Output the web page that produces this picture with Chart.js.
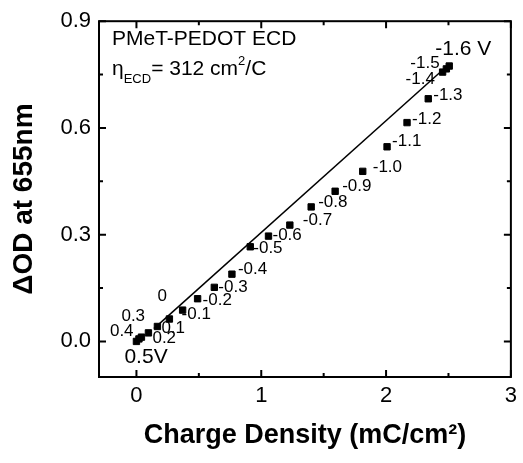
<!DOCTYPE html>
<html>
<head>
<meta charset="utf-8">
<script src="https://cdn.jsdelivr.net/npm/chart.js@4.4.0/dist/chart.umd.min.js"></script>
<style>
  body { margin: 0; background: #fff; }
  canvas { display: block; }
</style>
</head>
<body>
<canvas id="ecdChart" width="523" height="463"></canvas>
<script>
// potential steps (V) used as point labels
const potentials = ['0.5V', '0.4', '0.3', '0.2', '0.1', '0', '-0.1', '-0.2', '-0.3', '-0.4', '-0.5',
  '-0.6', '-0.7', '-0.8', '-0.9', '-1.0', '-1.1', '-1.2', '-1.3', '-1.4', '-1.5', '-1.6 V']
// charge density (mC/cm2)
const charge = [0, 0.02, 0.04, 0.096, 0.168, 0.264, 0.37, 0.49, 0.624, 0.765, 0.912,
  1.058, 1.229, 1.4, 1.592, 1.813, 2.008, 2.168, 2.338, 2.453, 2.483, 2.506]
// delta OD at 655nm
const deltaOD = [0, 0.007, 0.012, 0.024, 0.042, 0.063, 0.088, 0.12, 0.152, 0.189, 0.266,
  0.296, 0.327, 0.378, 0.422, 0.478, 0.547, 0.615, 0.682, 0.757, 0.766, 0.774]
// linear fit
const fitX = [0.14, 2.46]
const fitY = [0.036, 0.765]

const xMajor = [0, 1, 2, 3]
const xMinor = [0.5, 1.5, 2.5]
const yMajor = [0, 0.3, 0.6, 0.9]
const yMinor = [0.15, 0.45, 0.75]

// label offsets from each marker (px)
const labelOffsets = [
  [-12, 16], [-29, -8], [-20, -21], [4, 5], [4, 2], [-12, -23], [-1, 4], [5, 2], [4, 0], [6, -5], [3, 2],
  [4, -1], [13, -5], [7, -5], [7, -5], [10, -4], [5, -5], [5, -3], [5, -3], [-37, 7], [-36, -6], [-14, -17],
]

const FONT = '"Liberation Sans", Arial, sans-serif'

const framePlugin = {
  id: 'frame',
  afterDraw(chart) {
    const ctx = chart.ctx
    const area = chart.chartArea
    const xs = chart.scales.x
    const ys = chart.scales.y
    ctx.save()
    ctx.strokeStyle = '#000'
    ctx.lineWidth = 2
    ctx.strokeRect(area.left, area.top, area.right - area.left, area.bottom - area.top)

    function xTick(v, len) {
      const px = xs.getPixelForValue(v)
      ctx.beginPath()
      ctx.moveTo(px, area.bottom)
      ctx.lineTo(px, area.bottom - len)
      ctx.moveTo(px, area.top)
      ctx.lineTo(px, area.top + len)
      ctx.stroke()
    }
    function yTick(v, len) {
      const py = ys.getPixelForValue(v)
      ctx.beginPath()
      ctx.moveTo(area.left, py)
      ctx.lineTo(area.left + len, py)
      ctx.moveTo(area.right, py)
      ctx.lineTo(area.right - len, py)
      ctx.stroke()
    }
    xMajor.forEach(v => xTick(v, 7))
    xMinor.forEach(v => xTick(v, 4))
    yMajor.forEach(v => yTick(v, 7))
    yMinor.forEach(v => yTick(v, 4))
    ctx.restore()
  },
}

const labelPlugin = {
  id: 'pointLabels',
  beforeDatasetsDraw(chart) {
    const ctx = chart.ctx
    const meta = chart.getDatasetMeta(0)
    ctx.save()
    ctx.fillStyle = '#000'
    ctx.textBaseline = 'middle'
    ctx.textAlign = 'left'
    meta.data.forEach((pt, i) => {
      const big = i === 0 || i === potentials.length - 1
      ctx.font = (big ? '21px ' : '17px ') + FONT
      const off = labelOffsets[i]
      ctx.fillText(potentials[i], pt.x + off[0], pt.y + off[1])
    })

    // annotation text
    const left = chart.chartArea.left + 13
    ctx.textBaseline = 'alphabetic'
    ctx.font = '21px ' + FONT
    ctx.fillText('PMeT-PEDOT ECD', left, 45)

    let x = left
    const base = 75
    ctx.fillText('η', x, base)
    x += ctx.measureText('η').width
    ctx.font = '13px ' + FONT
    ctx.fillText('ECD', x, base + 8)
    x += ctx.measureText('ECD').width
    ctx.font = '21px ' + FONT
    ctx.fillText('= 312 cm', x, base)
    x += ctx.measureText('= 312 cm').width
    ctx.font = '13px ' + FONT
    ctx.fillText('2', x, base - 10)
    x += ctx.measureText('2').width
    ctx.font = '21px ' + FONT
    ctx.fillText('/C', x, base)
    ctx.restore()
  },
}

const points = charge.map((c, i) => ({ x: c, y: deltaOD[i] }))
const fitLine = fitX.map((c, i) => ({ x: c, y: fitY[i] }))

new Chart(document.getElementById('ecdChart').getContext('2d'), {
  type: 'scatter',
  data: {
    datasets: [
      {
        label: 'ECD',
        data: points,
        pointStyle: 'rect',
        pointRadius: 4.5,
        backgroundColor: '#000',
        borderColor: '#000',
        borderWidth: 1,
        showLine: false,
      },
      {
        label: 'fit',
        data: fitLine,
        showLine: true,
        borderColor: '#000',
        borderWidth: 1.5,
        pointRadius: 0,
        fill: false,
      },
    ],
  },
  options: {
    responsive: false,
    animation: false,
    layout: { padding: { top: 14, right: 12, left: 0, bottom: 0 } },
    plugins: {
      legend: { display: false },
      tooltip: { enabled: false },
    },
    scales: {
      x: {
        type: 'linear',
        min: -0.3,
        max: 3,
        afterBuildTicks: scale => {
          scale.ticks = xMajor.map(v => ({ value: v }))
        },
        afterFit: scale => {
          scale.height = 86
        },
        grid: { display: false, drawTicks: false },
        border: { display: false },
        ticks: {
          color: '#000',
          padding: 6,
          font: { family: FONT, size: 22 },
          callback: v => String(v),
        },
        title: {
          display: true,
          text: 'Charge Density (mC/cm²)',
          color: '#000',
          font: { family: FONT, size: 27, weight: 'bold' },
          padding: { top: 0, bottom: 11 },
        },
      },
      y: {
        type: 'linear',
        min: -0.1,
        max: 0.9,
        afterBuildTicks: scale => {
          scale.ticks = yMajor.map(v => ({ value: v }))
        },
        afterFit: scale => {
          scale.width = 99
        },
        grid: { display: false, drawTicks: false },
        border: { display: false },
        ticks: {
          color: '#000',
          padding: 8,
          font: { family: FONT, size: 22 },
          callback: v => v.toFixed(1),
        },
        title: {
          display: true,
          text: 'ΔOD at 655nm',
          color: '#000',
          font: { family: FONT, size: 28, weight: 'bold' },
          padding: { top: 7, bottom: 0 },
        },
      },
    },
  },
  plugins: [framePlugin, labelPlugin],
})
</script>
</body>
</html>
